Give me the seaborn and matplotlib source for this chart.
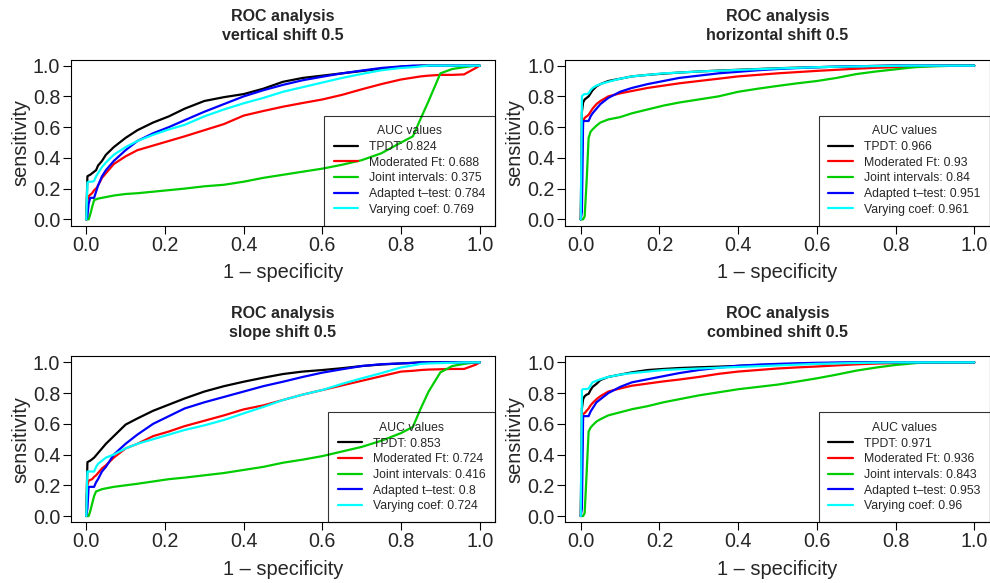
import pandas as pd
import matplotlib
matplotlib.use("Agg")
import matplotlib.pyplot as plt
import seaborn as sns

# shared 1 - specificity grid
fpr = [0, 0.003, 0.006, 0.01, 0.015, 0.02, 0.025, 0.03, 0.04, 0.05, 0.07,
       0.1, 0.13, 0.17, 0.21, 0.25, 0.3, 0.35, 0.4,
       0.45, 0.5, 0.55, 0.6, 0.65, 0.7, 0.75, 0.8,
       0.83, 0.85, 0.87, 0.9, 0.93, 0.96, 0.99, 1.0]

methods = ["TPDT", "Moderated Ft", "Joint intervals", "Adapted t\u2013test", "Varying coef"]
colors = ["black", "#FF0000", "#00CD00", "#0000FF", "#00FFFF"]

# vertical shift 0.5
vert_tpdt = [0, 0.28, 0.285, 0.29, 0.30, 0.31, 0.32, 0.35, 0.38, 0.42, 0.47,
             0.53, 0.58, 0.63, 0.67, 0.72, 0.77, 0.795, 0.815,
             0.85, 0.895, 0.92, 0.935, 0.95, 0.965, 0.98, 0.993,
             0.997, 1.0, 1.0, 1.0, 1.0, 1.0, 1.0, 1.0]
vert_modft = [0, 0.12, 0.15, 0.16, 0.17, 0.19, 0.20, 0.22, 0.27, 0.30, 0.36,
              0.41, 0.45, 0.48, 0.51, 0.54, 0.58, 0.62, 0.675,
              0.705, 0.733, 0.757, 0.78, 0.81, 0.846, 0.88, 0.91,
              0.922, 0.93, 0.935, 0.94, 0.94, 0.943, 0.985, 1.0]
vert_joint = [0, 0, 0, 0.03, 0.08, 0.125, 0.13, 0.135, 0.14, 0.145, 0.155,
              0.165, 0.17, 0.18, 0.19, 0.20, 0.215, 0.225, 0.245,
              0.27, 0.29, 0.31, 0.33, 0.355, 0.385, 0.43, 0.50,
              0.54, 0.656, 0.77, 0.95, 0.978, 0.99, 1.0, 1.0]
vert_ttest = [0, 0.02, 0.10, 0.14, 0.14, 0.14, 0.18, 0.22, 0.28, 0.32, 0.38,
              0.45, 0.51, 0.56, 0.60, 0.645, 0.70, 0.75, 0.80,
              0.84, 0.875, 0.905, 0.928, 0.95, 0.968, 0.985, 0.995,
              1.0, 1.0, 1.0, 1.0, 1.0, 1.0, 1.0, 1.0]
vert_varcoef = [0, 0.24, 0.245, 0.245, 0.245, 0.25, 0.28, 0.30, 0.34, 0.37, 0.42,
                0.47, 0.51, 0.55, 0.585, 0.615, 0.67, 0.715, 0.755,
                0.79, 0.83, 0.86, 0.89, 0.92, 0.946, 0.97, 0.985,
                0.99, 0.995, 1.0, 1.0, 1.0, 1.0, 1.0, 1.0]
vert_auc = ["0.824", "0.688", "0.375", "0.784", "0.769"]

# horizontal shift 0.5
horiz_tpdt = [0, 0.70, 0.76, 0.78, 0.79, 0.80, 0.82, 0.84, 0.865, 0.88, 0.90,
              0.915, 0.93, 0.94, 0.948, 0.955, 0.962, 0.968, 0.973,
              0.978, 0.983, 0.987, 0.99, 0.993, 0.996, 0.998, 1.0,
              1.0, 1.0, 1.0, 1.0, 1.0, 1.0, 1.0, 1.0]
horiz_modft = [0, 0.40, 0.64, 0.66, 0.67, 0.68, 0.70, 0.72, 0.75, 0.77, 0.80,
               0.82, 0.835, 0.855, 0.87, 0.885, 0.90, 0.915, 0.93,
               0.94, 0.95, 0.958, 0.966, 0.973, 0.98, 0.986, 0.99,
               0.992, 0.994, 0.996, 0.998, 1.0, 1.0, 1.0, 1.0]
horiz_joint = [0, 0, 0, 0.02, 0.25, 0.53, 0.57, 0.585, 0.61, 0.63, 0.65,
               0.665, 0.69, 0.715, 0.74, 0.76, 0.78, 0.80, 0.83,
               0.85, 0.868, 0.885, 0.90, 0.92, 0.945, 0.962, 0.976,
               0.985, 0.99, 0.993, 0.996, 0.998, 1.0, 1.0, 1.0]
horiz_ttest = [0, 0.05, 0.64, 0.64, 0.64, 0.64, 0.67, 0.69, 0.72, 0.75, 0.79,
               0.83, 0.855, 0.88, 0.90, 0.92, 0.935, 0.95, 0.96,
               0.97, 0.978, 0.984, 0.99, 0.993, 0.996, 0.998, 1.0,
               1.0, 1.0, 1.0, 1.0, 1.0, 1.0, 1.0, 1.0]
horiz_varcoef = [0, 0.80, 0.81, 0.815, 0.815, 0.82, 0.84, 0.855, 0.87, 0.88, 0.895,
                 0.915, 0.93, 0.94, 0.95, 0.955, 0.962, 0.967, 0.972,
                 0.977, 0.982, 0.986, 0.99, 0.993, 0.995, 0.997, 0.999,
                 1.0, 1.0, 1.0, 1.0, 1.0, 1.0, 1.0, 1.0]
horiz_auc = ["0.966", "0.93", "0.84", "0.951", "0.961"]

# slope shift 0.5
slope_tpdt = [0, 0.35, 0.355, 0.36, 0.37, 0.38, 0.395, 0.41, 0.44, 0.47, 0.52,
              0.595, 0.635, 0.685, 0.725, 0.765, 0.81, 0.845, 0.874,
              0.90, 0.924, 0.94, 0.95, 0.962, 0.976, 0.986, 0.993,
              0.997, 1.0, 1.0, 1.0, 1.0, 1.0, 1.0, 1.0]
slope_modft = [0, 0.20, 0.23, 0.235, 0.24, 0.255, 0.265, 0.28, 0.31, 0.33, 0.38,
               0.44, 0.47, 0.52, 0.55, 0.585, 0.62, 0.655, 0.694,
               0.72, 0.755, 0.79, 0.82, 0.85, 0.88, 0.91, 0.94,
               0.945, 0.95, 0.953, 0.955, 0.957, 0.957, 0.985, 1.0]
slope_joint = [0, 0, 0, 0.03, 0.08, 0.13, 0.16, 0.165, 0.175, 0.18, 0.19,
               0.20, 0.21, 0.225, 0.24, 0.25, 0.265, 0.28, 0.30,
               0.32, 0.347, 0.367, 0.39, 0.42, 0.45, 0.49, 0.54,
               0.58, 0.70, 0.81, 0.935, 0.976, 0.99, 1.0, 1.0]
slope_ttest = [0, 0.05, 0.19, 0.19, 0.19, 0.19, 0.22, 0.24, 0.29, 0.32, 0.40,
               0.47, 0.53, 0.60, 0.65, 0.70, 0.74, 0.775, 0.81,
               0.845, 0.874, 0.905, 0.933, 0.955, 0.976, 0.988, 0.993,
               0.996, 1.0, 1.0, 1.0, 1.0, 1.0, 1.0, 1.0]
slope_varcoef = [0, 0.29, 0.29, 0.29, 0.29, 0.29, 0.32, 0.34, 0.36, 0.38, 0.40,
                 0.44, 0.47, 0.50, 0.53, 0.56, 0.59, 0.625, 0.668,
                 0.71, 0.755, 0.79, 0.82, 0.86, 0.896, 0.93, 0.967,
                 0.98, 0.99, 0.993, 0.995, 0.997, 1.0, 1.0, 1.0]
slope_auc = ["0.853", "0.724", "0.416", "0.8", "0.724"]

# combined shift 0.5
comb_tpdt = [0, 0.70, 0.76, 0.78, 0.79, 0.795, 0.82, 0.84, 0.86, 0.885, 0.905,
             0.92, 0.935, 0.95, 0.957, 0.963, 0.968, 0.972, 0.977,
             0.982, 0.986, 0.99, 0.993, 0.996, 0.998, 1.0, 1.0,
             1.0, 1.0, 1.0, 1.0, 1.0, 1.0, 1.0, 1.0]
comb_modft = [0, 0.40, 0.664, 0.67, 0.685, 0.70, 0.72, 0.735, 0.76, 0.78, 0.81,
              0.83, 0.848, 0.862, 0.876, 0.888, 0.905, 0.925, 0.94,
              0.95, 0.96, 0.967, 0.973, 0.98, 0.987, 0.992, 0.995,
              0.996, 0.997, 0.998, 0.999, 1.0, 1.0, 1.0, 1.0]
comb_joint = [0, 0, 0, 0.02, 0.28, 0.55, 0.575, 0.59, 0.615, 0.63, 0.655,
              0.675, 0.695, 0.715, 0.74, 0.76, 0.785, 0.805, 0.825,
              0.84, 0.855, 0.875, 0.896, 0.92, 0.946, 0.966, 0.983,
              0.99, 0.995, 0.998, 1.0, 1.0, 1.0, 1.0, 1.0]
comb_ttest = [0, 0.05, 0.65, 0.65, 0.65, 0.65, 0.68, 0.70, 0.74, 0.76, 0.80,
              0.84, 0.87, 0.89, 0.91, 0.93, 0.95, 0.965, 0.978,
              0.985, 0.99, 0.994, 0.997, 0.999, 1.0, 1.0, 1.0,
              1.0, 1.0, 1.0, 1.0, 1.0, 1.0, 1.0, 1.0]
comb_varcoef = [0, 0.82, 0.826, 0.826, 0.826, 0.83, 0.85, 0.87, 0.88, 0.89, 0.905,
                0.92, 0.93, 0.94, 0.95, 0.955, 0.96, 0.965, 0.97,
                0.975, 0.98, 0.985, 0.99, 0.993, 0.996, 0.998, 1.0,
                1.0, 1.0, 1.0, 1.0, 1.0, 1.0, 1.0, 1.0]
comb_auc = ["0.971", "0.936", "0.843", "0.953", "0.96"]

panels = [
    ("vertical shift 0.5", [vert_tpdt, vert_modft, vert_joint, vert_ttest, vert_varcoef], vert_auc),
    ("horizontal shift 0.5", [horiz_tpdt, horiz_modft, horiz_joint, horiz_ttest, horiz_varcoef], horiz_auc),
    ("slope shift 0.5", [slope_tpdt, slope_modft, slope_joint, slope_ttest, slope_varcoef], slope_auc),
    ("combined shift 0.5", [comb_tpdt, comb_modft, comb_joint, comb_ttest, comb_varcoef], comb_auc),
]

sns.set_theme(style="ticks")
plt.rcParams['font.family'] = ['Liberation Sans', 'DejaVu Sans']

W, H = 990, 583
fig = plt.figure(figsize=(W / 100, H / 100), dpi=100)
# axes boxes in pixels: left, top
boxes = [(70.5, 59.5), (565, 59.5), (70.5, 356.2), (565, 356.2)]
bw, bh = 425, 166

for (title, curves, aucs), (left, top) in zip(panels, boxes):
    ax = fig.add_axes([left / W, (H - top - bh) / H, bw / W, bh / H])
    rows = []
    for m, tpr, auc in zip(methods, curves, aucs):
        lab = f"{m}: {auc}"
        for x, y in zip(fpr, tpr):
            rows.append((x, y, lab))
    df = pd.DataFrame(rows, columns=["fpr", "tpr", "method"])
    order = [f"{m}: {a}" for m, a in zip(methods, aucs)]
    sns.lineplot(data=df, x="fpr", y="tpr", hue="method", hue_order=order,
                 palette=colors, estimator=None, sort=False, lw=1.6, ax=ax)
    ax.set_xlim(-0.04, 1.04)
    ax.set_ylim(-0.04, 1.04)
    ax.set_xticks([0, 0.2, 0.4, 0.6, 0.8, 1.0])
    ax.set_yticks([0, 0.2, 0.4, 0.6, 0.8, 1.0])
    ax.set_xticklabels(["0.0", "0.2", "0.4", "0.6", "0.8", "1.0"])
    ax.set_yticklabels(["0.0", "0.2", "0.4", "0.6", "0.8", "1.0"])
    ax.tick_params(length=5.8, width=0.8, labelsize=14.2, pad=1.5, color="black")
    for s in ax.spines.values():
        s.set_visible(True)
        s.set_linewidth(0.8)
        s.set_color("black")
    ax.set_xlabel("1 \u2013 specificity", fontsize=14.4, labelpad=6)
    ax.set_ylabel("sensitivity", fontsize=14.4, labelpad=2)
    ax.set_title("ROC analysis\n" + title, fontsize=11.5, fontweight="bold",
                 pad=14, linespacing=1.35)
    handles, labels = ax.get_legend_handles_labels()
    leg = ax.legend(handles, labels, title="AUC values", loc="lower right",
                    fontsize=8.8, title_fontsize=8.8, frameon=True, fancybox=False,
                    borderaxespad=0, handlelength=2.0, handletextpad=0.9,
                    labelspacing=0.3, borderpad=0.8)
    leg.get_frame().set_facecolor("none")
    leg.get_frame().set_edgecolor("black")
    leg.get_frame().set_linewidth(0.8)

plt.savefig("out.png", dpi=100)
